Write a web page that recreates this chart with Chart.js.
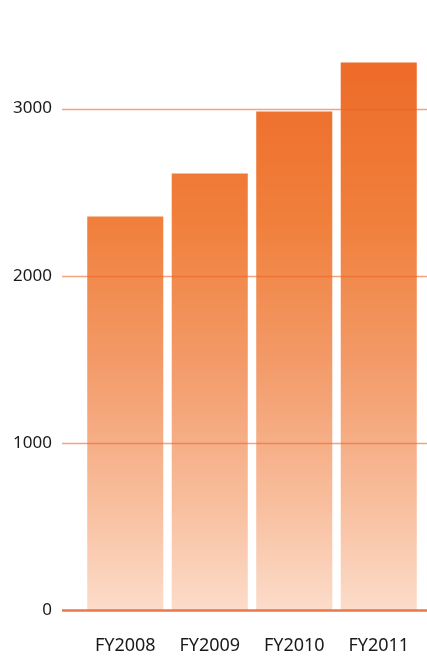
<!DOCTYPE html>
<html>
<head>
<meta charset="utf-8">
<script src="https://cdn.jsdelivr.net/npm/chart.js@4"></script>
<style>
html,body{margin:0;padding:0;background:#fff;}
#wrap{width:427px;height:656px;position:relative;}
</style>
</head>
<body>
<div id="wrap"><canvas id="c" width="427" height="656"></canvas></div>
<script>
const categories = ["FY2008", "FY2009", "FY2010", "FY2011"];
const values = [2355, 2612, 2983, 3276];
const yTicks = [0, 1000, 2000, 3000];

const gridPlugin = {
  id: 'overGrid',
  afterDatasetsDraw(chart) {
    const ctx = chart.ctx, y = chart.scales.y;
    ctx.save();
    yTicks.forEach(v => {
      const py = Math.round(y.getPixelForValue(v)) + 0.5;
      ctx.beginPath();
      ctx.moveTo(62, py);
      ctx.lineTo(chart.width, py);
      if (v === 0) { ctx.strokeStyle = 'rgba(232,105,50,0.9)'; ctx.lineWidth = 2.5; }
      else { ctx.strokeStyle = 'rgba(235,100,40,0.6)'; ctx.lineWidth = 1.6; }
      ctx.stroke();
    });
    ctx.restore();
  }
};

function barGradient(context) {
  const chart = context.chart;
  const a = chart.chartArea;
  if (!a) return '#f08040';
  const y = chart.scales.y;
  const g = chart.ctx.createLinearGradient(0, y.getPixelForValue(3300), 0, y.getPixelForValue(0));
  g.addColorStop(0, '#ee6a28');
  g.addColorStop(0.3, '#f0803c');
  g.addColorStop(0.55, '#f39a68');
  g.addColorStop(0.8, '#f8bd9c');
  g.addColorStop(1, '#fcdcca');
  return g;
}

new Chart(document.getElementById('c'), {
  type: 'bar',
  data: {
    labels: categories,
    datasets: [{
      data: values,
      backgroundColor: barGradient,
      borderWidth: 0,
      categoryPercentage: 1.0,
      barPercentage: 0.9
    }]
  },
  options: {
    responsive: false,
    animation: false,
    devicePixelRatio: 1,
    layout: { padding: { top: 25, right: 6, left: 0, bottom: 0 } },
    plugins: { legend: { display: false }, tooltip: { enabled: false } },
    scales: {
      x: {
        grid: { display: false, drawTicks: false },
        border: { display: false },
        ticks: { color: '#1a1a1a', font: { family: 'Noto Sans', size: 18 }, padding: 25, maxRotation: 0 },
        afterFit: s => { s.height = 46; s.paddingLeft = 0; s.paddingRight = 0; }
      },
      y: {
        min: 0, max: 3500, bounds: 'data',
        afterBuildTicks: s => { s.ticks = yTicks.map(v => ({ value: v })); },
        grid: { display: false, drawTicks: false },
        border: { display: false },
        ticks: { color: '#1a1a1a', font: { family: 'Noto Sans', size: 17 }, padding: 31, callback: v => String(v) },
        afterFit: s => { s.width = 83; s.paddingTop = 0; s.paddingBottom = 0; }
      }
    }
  },
  plugins: [gridPlugin]
});
</script>
</body>
</html>
